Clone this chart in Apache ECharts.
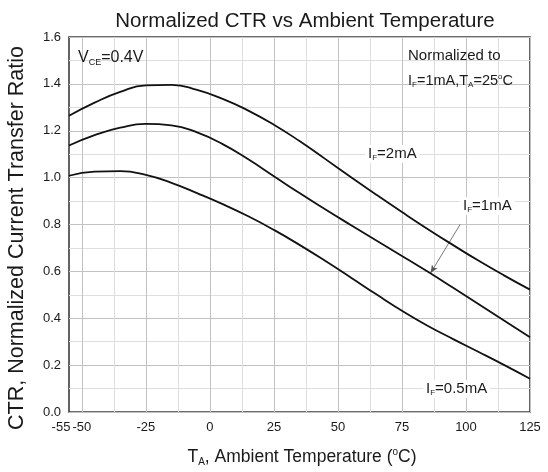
<!DOCTYPE html>
<html>
<head>
<meta charset="utf-8">
<script src="https://cdn.jsdelivr.net/npm/echarts@6/dist/echarts.min.js"></script>
<style>html,body{margin:0;padding:0;background:#fff;}#c{width:548px;height:472px;}</style>
</head>
<body>
<div id="c"></div>
<script>
// ---- data ----
const temps = [-55, -45, -35, -25, -15, -5, 5, 15, 25, 35, 45, 55, 65, 75, 85, 95, 105, 115, 125];
const ctr2mA = [1.264, 1.320, 1.366, 1.394, 1.396, 1.374, 1.336, 1.286, 1.226, 1.156, 1.080, 1.003, 0.927, 0.853, 0.781, 0.712, 0.645, 0.582, 0.522];
const ctr1mA = [1.137, 1.181, 1.213, 1.229, 1.223, 1.193, 1.143, 1.078, 1.006, 0.934, 0.865, 0.798, 0.732, 0.666, 0.599, 0.530, 0.460, 0.389, 0.319];
const ctr05mA = [1.008, 1.026, 1.028, 1.012, 0.978, 0.934, 0.887, 0.835, 0.777, 0.713, 0.645, 0.574, 0.502, 0.432, 0.368, 0.311, 0.256, 0.200, 0.142];
const xTickLabels = [-55, -50, -25, 0, 25, 50, 75, 100, 125];
const yTickLabels = [0, 0.2, 0.4, 0.6, 0.8, 1.0, 1.2, 1.4, 1.6];
const arrowFrom = [97.7, 0.80];
const arrowTo = [86.2, 0.593];

const FONT = "'Liberation Sans', Arial, sans-serif";
const TXT = '#1a1a1a';
const pairs = (xs, ys) => xs.map((x, i) => [x, ys[i]]);

// split line colours: ticks every 2.5 starting at -55; major every 25, minor every 12.5
const MAJ = '#c2c2c2', MIN = '#dedede', NONE = 'rgba(0,0,0,0)';
const xLineColors = [NONE, NONE, MAJ, NONE, NONE, NONE, NONE, MIN, NONE, NONE];

const rich = (size) => ({
  b: { fontSize: size, fontFamily: FONT, color: TXT },
  s: { fontSize: Math.round(size * 0.55), fontFamily: FONT, color: TXT, padding: [Math.round(size * 0.55), 0, 0, 0] },
  u: { fontSize: Math.round(size * 0.55), fontFamily: FONT, color: TXT, padding: [0, 0, Math.round(size * 0.55), 0] }
});

function txt(x, y, text, size, opts) {
  return Object.assign({
    type: 'text', x: x, y: y, z: 50,
    style: Object.assign({ text: text, rich: rich(size), font: size + 'px ' + FONT, fill: TXT, textVerticalAlign: 'middle', verticalAlign: 'middle' }, (opts && opts.style) || {})
  }, (opts && opts.el) || {});
}

const lineSeries = (name, ys) => ({
  name: name, type: 'line', data: pairs(temps, ys), smooth: 0.5, symbol: 'none',
  lineStyle: { color: '#111', width: 1.8 }, z: 5
});

const s1 = lineSeries('1mA', ctr1mA);
s1.markLine = {
  silent: true, symbol: ['none', 'arrow'], symbolSize: [5, 8],
  label: { show: false },
  lineStyle: { color: '#555', width: 0.8, type: 'solid' },
  data: [[{ coord: arrowFrom }, { coord: arrowTo }]]
};

const option = {
  animation: false,
  backgroundColor: '#fff',
  grid: { left: 69, right: 18, top: 37, bottom: 60, show: true, borderColor: '#3c3c3c', borderWidth: 1.6, backgroundColor: '#fff' },
  xAxis: {
    type: 'value', min: -55, max: 125, interval: 2.5,
    axisLine: { show: false }, axisTick: { show: false },
    splitLine: { show: true, lineStyle: { color: xLineColors, width: 1 } },
    axisLabel: {
      margin: 9, color: TXT, fontSize: 13, fontFamily: FONT, showMinLabel: true, showMaxLabel: true,
      formatter: (v) => {
        const r = Math.round(v * 10) / 10;
        if (!xTickLabels.includes(r)) return '';
        return r === -55 ? '{l|-55}' : String(r);
      },
      rich: { l: { fontSize: 13, fontFamily: FONT, color: TXT, padding: [0, 16, 0, 0] } }
    }
  },
  yAxis: {
    type: 'value', min: 0, max: 1.6, interval: 0.2,
    axisLine: { show: false }, axisTick: { show: false },
    splitLine: { show: true, lineStyle: { color: MAJ, width: 1 } },
    minorTick: { show: false, splitNumber: 2 },
    minorSplitLine: { show: true, lineStyle: { color: MIN, width: 1 } },
    axisLabel: {
      margin: 8, color: TXT, fontSize: 13, fontFamily: FONT,
      formatter: (v) => {
        const r = Math.round(v * 10) / 10;
        return yTickLabels.includes(r) ? r.toFixed(1) : '';
      }
    }
  },
  series: [lineSeries('2mA', ctr2mA), s1, lineSeries('0.5mA', ctr05mA)],
  graphic: [
    txt(305, 21, '{b|Normalized CTR vs Ambient Temperature}', 20.5, { style: { align: 'center', textAlign: 'center' } }),
    txt(302, 457, '{b|T}{s|A}{b|, Ambient Temperature (}{u|o}{b|C)}', 17.5, { style: { align: 'center', textAlign: 'center' } }),
    txt(17, 238, '{b|CTR, Normalized Current Transfer Ratio}', 21.5, { style: { align: 'center', textAlign: 'center' }, el: { rotation: Math.PI / 2 } }),
    txt(78, 58, '{b|V}{s|CE}{b|=0.4V}', 16, { style: { align: 'left', textAlign: 'left' } }),
    txt(408, 56, '{b|Normalized to}', 15, { style: { align: 'left', textAlign: 'left' } }),
    txt(408, 81, '{b|I}{s|F}{b|=1mA,T}{s|A}{b|=25}{u|o}{b|C}', 14.5, { style: { align: 'left', textAlign: 'left' } }),
    txt(365, 154, '{b|I}{s|F}{b|=2mA}', 15, { style: { align: 'left', textAlign: 'left', backgroundColor: '#fff', padding: [1, 3, 1, 3] } }),
    txt(460, 206, '{b|I}{s|F}{b|=1mA}', 15, { style: { align: 'left', textAlign: 'left', backgroundColor: '#fff', padding: [1, 3, 1, 3] } }),
    txt(423, 389, '{b|I}{s|F}{b|=0.5mA}', 15, { style: { align: 'left', textAlign: 'left', backgroundColor: '#fff', padding: [1, 3, 1, 3] } })
  ]
};

const chart = echarts.init(document.getElementById('c'), null, { renderer: 'canvas' });
chart.setOption(option);
</script>
</body>
</html>
